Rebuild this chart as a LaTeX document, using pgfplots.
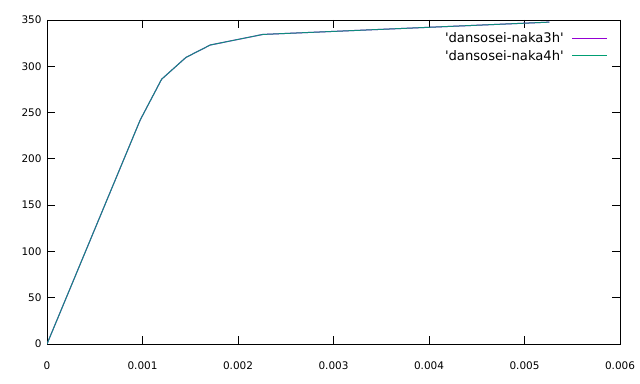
\documentclass[border=0pt]{standalone}
\usepackage{pgfplots}
\pgfplotsset{compat=1.18}
\usepackage{fontspec}
\setmainfont{DejaVu Sans}
\definecolor{gpPurple}{HTML}{9400D3}
\definecolor{gpTeal}{HTML}{009E73}
\begin{document}
\begin{tikzpicture}
\path[use as bounding box] (-47bp,-40bp) rectangle (593bp,344bp);
\begin{axis}[
  at={(0,0)}, anchor=south west,
  scale only axis, width=573bp, height=324bp,
  xmin=0, xmax=0.006, ymin=0, ymax=350,
  xtick={0,0.001,0.002,0.003,0.004,0.005,0.006},
  xticklabels={0,0.001,0.002,0.003,0.004,0.005,0.006},
  ytick={0,50,100,150,200,250,300,350},
  scaled x ticks=false,
  /pgf/number format/assume math mode=true,
  tick style={black, line width=0.8bp},
  major tick length=8bp,
  tick align=inside,
  axis line style={black, line width=0.8bp},
  ticklabel style={font=\fontsize{10.5}{12}\selectfont},
  xticklabel style={yshift=-14bp},
  yticklabel style={xshift=-2bp},
  legend style={draw=none, fill=none, at={(0.979,0.968)}, anchor=north east,
    inner sep=0pt, font=\fontsize{13.2}{15}\selectfont, row sep=2bp,
    nodes={inner sep=2bp}},
  legend cell align=right,
  legend plot pos=right,
  legend image code/.code={\fill[white, opacity=0] (0bp,-1bp) rectangle (41bp,1bp); \draw[#1, opacity=1] (6bp,0bp) -- (41bp,0bp);},
]
\addplot[gpPurple, line width=1bp] coordinates {
(0,0) (0.000976,242) (0.0012,286) (0.001455,309.6) (0.00171,323) (0.00226,334.4) (0.00526,347.7)};
\addlegendentry{\textquotesingle dansosei-naka3h\textquotesingle}
\addplot[gpTeal, line width=1bp, opacity=0.88] coordinates {
(0,0) (0.000976,242) (0.0012,286) (0.001455,309.6) (0.00171,323) (0.00226,334.4) (0.00526,347.7)};
\addlegendentry{\textquotesingle dansosei-naka4h\textquotesingle}
\end{axis}
\end{tikzpicture}
\end{document}
